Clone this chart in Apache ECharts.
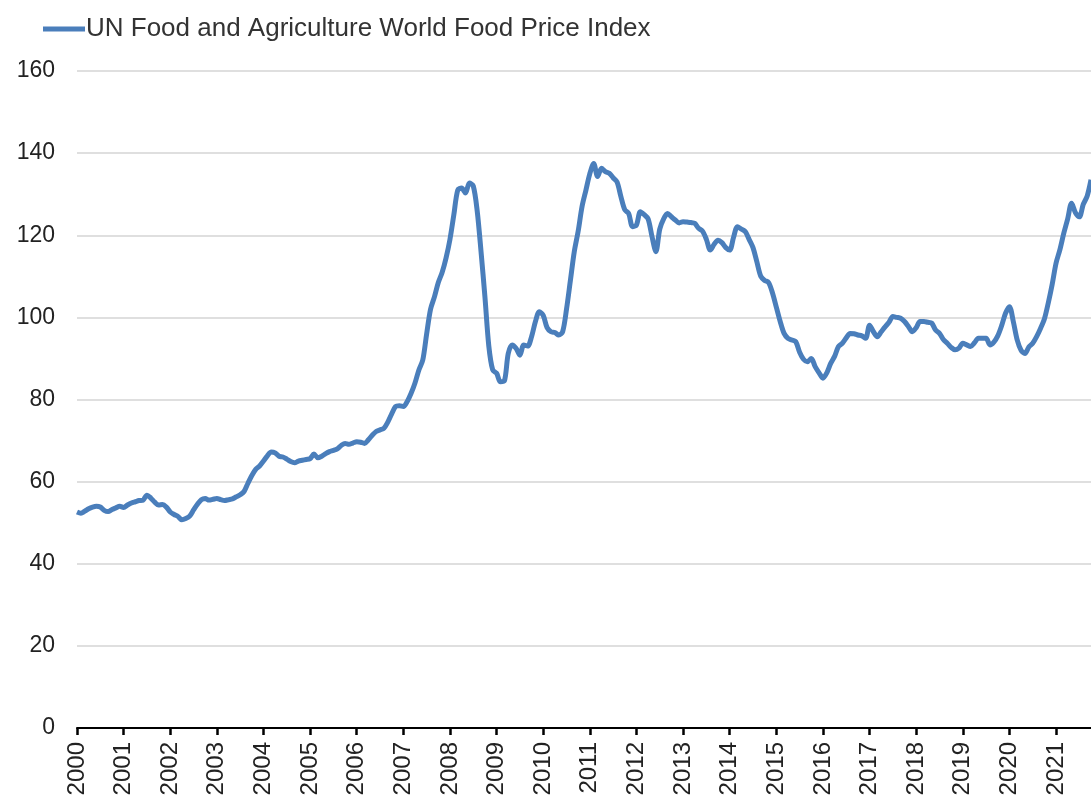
<!DOCTYPE html>
<html>
<head>
<meta charset="utf-8">
<script src="https://cdn.jsdelivr.net/npm/echarts@6/dist/echarts.min.js"></script>
<style>
html,body{margin:0;padding:0;background:#fff;}
#c{width:1091px;height:804px;}
</style>
</head>
<body>
<div id="c"></div>
<script>
const seriesName = "UN Food and Agriculture World Food Price Index";
const startYear = 2000;
const yTicks = [0, 20, 40, 60, 80, 100, 120, 140, 160];
const yearLabels = [2000,2001,2002,2003,2004,2005,2006,2007,2008,2009,2010,2011,2012,2013,2014,2015,2016,2017,2018,2019,2020,2021];
// Monthly index values, Jan 2000 .. Oct 2021
const v2000 = [52.6,52.3,52.8,53.4,53.8,54.0,53.8,53.0,52.7,53.2,53.6,54.0];
const v2001 = [53.7,54.3,54.8,55.1,55.4,55.5,56.7,56.0,55.0,54.3,54.4,53.8];
const v2002 = [52.6,52.0,51.5,50.7,51.0,51.6,53.1,54.5,55.6,55.9,55.5,55.7];
const v2003 = [55.9,55.6,55.4,55.6,55.8,56.3,56.8,57.6,59.6,61.5,63.0,63.8];
const v2004 = [65.0,66.3,67.2,67.0,66.2,66.0,65.5,64.9,64.6,65.0,65.2,65.4];
const v2005 = [65.6,66.7,65.8,66.2,66.8,67.3,67.6,68.0,68.8,69.3,69.1,69.4];
const v2006 = [69.7,69.6,69.3,70.2,71.3,72.2,72.6,73.0,74.5,76.5,78.3,78.5];
const v2007 = [78.3,79.5,81.5,84.0,87.2,89.6,96.0,102.0,105.0,108.5,111.0,114.5];
const v2008 = [119.0,125.0,131.0,131.5,130.3,132.7,132.0,126.0,116.0,105.0,93.0,87.2];
const v2009 = [86.4,84.3,84.5,91.2,93.3,92.5,90.8,93.3,93.0,95.3,99.0,101.4];
const v2010 = [100.5,97.5,96.5,96.3,95.7,96.5,102.0,109.0,116.0,121.0,127.0,131.0];
const v2011 = [135.0,137.5,134.3,136.3,135.5,135.1,134.0,133.0,129.4,126.2,125.3,122.1];
const v2012 = [122.5,125.7,125.0,124.0,119.7,116.0,121.5,124.0,125.3,124.5,123.7,123.0];
const v2013 = [123.3,123.2,123.1,122.9,121.7,121.0,119.0,116.4,117.8,118.8,118.2,117.0];
const v2014 = [116.4,119.5,122.1,121.5,120.9,119.0,117.0,113.5,110.0,109.0,108.5,106.0];
const v2015 = [102.5,99.0,96.1,94.9,94.5,94.1,91.5,89.8,89.2,90.0,88.0,86.5];
const v2016 = [85.2,86.5,88.8,90.5,92.9,93.7,95.0,96.1,96.0,95.7,95.5,94.9];
const v2017 = [98.1,96.5,95.3,96.5,97.7,98.8,100.2,100.0,99.8,99.0,97.8,96.5];
const v2018 = [97.5,99.0,99.0,98.8,98.6,96.9,96.1,94.6,93.7,92.7,92.1,92.5];
const v2019 = [93.7,93.3,92.9,93.8,94.9,94.9,94.9,93.3,94.0,95.5,98.0,101.0];
const v2020 = [102.6,99.0,94.5,92.0,91.2,92.8,93.7,95.3,97.3,99.6,103.5,108.0];
const v2021 = [113.2,116.5,120.5,124.0,127.8,125.5,124.5,127.5,129.5,133.5];

const allYears = [v2000,v2001,v2002,v2003,v2004,v2005,v2006,v2007,v2008,v2009,v2010,v2011,v2012,v2013,v2014,v2015,v2016,v2017,v2018,v2019,v2020,v2021];
const data = [];
allYears.forEach((arr, yi) => {
  arr.forEach((val, m) => data.push([startYear + yi + m / 12, val]));
});

const chart = echarts.init(document.getElementById('c'), null, {renderer: 'canvas'});
const font = '"Liberation Sans", Arial, sans-serif';
chart.setOption({
  animation: false,
  backgroundColor: '#ffffff',
  grid: {left: 77, right: 0, top: 71, bottom: 76, containLabel: false},
  legend: {
    left: 38, top: 11,
    itemWidth: 42, itemHeight: 5, itemGap: 0,
    icon: 'rect',
    data: [seriesName],
    textStyle: {fontFamily: font, fontSize: 26, color: '#333333', padding: [0,0,0,-4]}
  },
  xAxis: {
    type: 'value',
    min: 2000, max: 2021.75, interval: 1,
    axisLine: {show: true, lineStyle: {color: '#000', width: 2}},
    axisTick: {show: true, length: 7, lineStyle: {color: '#000', width: 2.5}},
    splitLine: {show: false},
    axisLabel: {
      rotate: 90, margin: 14, fontFamily: font, fontSize: 24, color: '#222',
      showMaxLabel: false,
      formatter: function (v) { return yearLabels.indexOf(Math.round(v)) >= 0 && Math.abs(v - Math.round(v)) < 1e-6 ? String(Math.round(v)) : ''; }
    }
  },
  yAxis: {
    type: 'value',
    min: yTicks[0], max: yTicks[yTicks.length - 1], interval: 20,
    axisLine: {show: false},
    axisTick: {show: false},
    splitLine: {lineStyle: {color: '#d4d4d4', width: 1.5}},
    axisLabel: {fontFamily: font, fontSize: 23, color: '#222', margin: 22}
  },
  series: [{
    name: seriesName,
    type: 'line',
    data: data,
    showSymbol: false,
    symbol: 'none',
    smooth: 0.3,
    lineStyle: {color: '#4a7ebb', width: 5},
    itemStyle: {color: '#4a7ebb'},
    clip: true
  }]
});
</script>
</body>
</html>
